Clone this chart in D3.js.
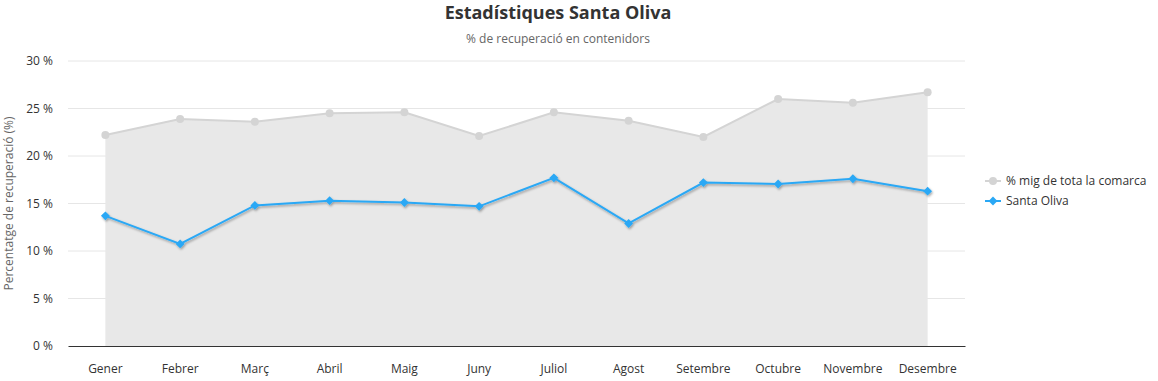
<!DOCTYPE html>
<html><head><meta charset="utf-8">
<script src="https://cdn.jsdelivr.net/npm/d3@7"></script>
<style>
body{margin:0;background:#fff;}
svg{font-family:"Open Sans","Noto Sans",sans-serif;}
</style></head>
<body><div id="chart"></div>
<script>
const months = ["Gener","Febrer","Març","Abril","Maig","Juny","Juliol","Agost","Setembre","Octubre","Novembre","Desembre"];
const comarca = [22.2,23.9,23.6,24.5,24.6,22.1,24.6,23.7,22.0,26.0,25.6,26.7];
const santaOliva = [13.7,10.75,14.8,15.3,15.1,14.7,17.7,12.9,17.2,17.05,17.6,16.3];
const yTicks = [0,5,10,15,20,25,30];
const seriesNames = ["% mig de tota la comarca","Santa Oliva"];

const W=1158,H=381;
const m={left:68,right:1158-965,top:61,bottom:381-346};
const svg=d3.select("#chart").append("svg").attr("width",W).attr("height",H);
const defs=svg.append("defs");
const f=defs.append("filter").attr("id","sh").attr("x","-10%").attr("y","-50%").attr("width","120%").attr("height","200%");
f.append("feDropShadow").attr("dx",1).attr("dy",1.5).attr("stdDeviation",1.3).attr("flood-color","#000").attr("flood-opacity",0.35);

const x=d3.scaleBand().domain(months).range([m.left,W-m.right]);
const y=d3.scaleLinear().domain([0,30]).range([H-m.bottom,m.top]);
const cx=d=>x(d)+x.bandwidth()/2;

// grid
svg.append("g").selectAll("line").data(yTicks.filter(t=>t>0)).join("line")
 .attr("x1",m.left).attr("x2",W-m.right).attr("y1",d=>y(d)).attr("y2",d=>y(d))
 .attr("stroke","#e6e6e6").attr("stroke-width",1);

// y axis
const ya=svg.append("g").attr("transform",`translate(${m.left},0)`)
 .call(d3.axisLeft(y).tickValues(yTicks).tickSize(0).tickPadding(15).tickFormat(d=>d+" %"));
ya.select(".domain").remove();
ya.selectAll("text").attr("font-size",12).attr("fill","#333").attr("font-family","'Open Sans',sans-serif");

// area comarca
const area=d3.area().x((d,i)=>cx(months[i])).y0(y(0)).y1(d=>y(d));
svg.append("path").datum(comarca).attr("d",area).attr("fill","#e8e8e8");
const line=d3.line().x((d,i)=>cx(months[i])).y(d=>y(d));
svg.append("path").datum(comarca).attr("d",line).attr("fill","none").attr("stroke","#d4d4d4").attr("stroke-width",2);
svg.append("g").selectAll("circle").data(comarca).join("circle")
 .attr("cx",(d,i)=>cx(months[i])).attr("cy",d=>y(d)).attr("r",4).attr("fill","#d4d4d4");

// x axis
const xa=svg.append("g").attr("transform",`translate(0,${y(0)})`)
 .call(d3.axisBottom(x).tickSize(0).tickPadding(18));
xa.select(".domain").attr("stroke","#333").attr("stroke-width",1);
xa.selectAll("text").attr("font-size",12).attr("fill","#333").attr("font-family","'Open Sans',sans-serif");

// santa oliva
const blue="#2aa8f5";
const g2=svg.append("g").attr("filter","url(#sh)");
g2.append("path").datum(santaOliva).attr("d",line).attr("fill","none").attr("stroke",blue).attr("stroke-width",2);
const diamond=d3.symbol().type(d3.symbolDiamond2).size(50);
g2.selectAll("path.pt").data(santaOliva).join("path").attr("class","pt")
 .attr("d",diamond).attr("transform",(d,i)=>`translate(${cx(months[i])},${y(d)})`).attr("fill",blue);

// titles
svg.append("text").attr("x",558).attr("y",19).attr("text-anchor","middle")
 .attr("font-size",18).attr("font-weight","bold").attr("fill","#333").text("Estadístiques Santa Oliva");
svg.append("text").attr("x",558).attr("y",43).attr("text-anchor","middle")
 .attr("font-size",12).attr("fill","#666").text("% de recuperació en contenidors");
svg.append("text").attr("transform",`translate(13,${(y(0)+y(30))/2}) rotate(-90)`).attr("text-anchor","middle")
 .attr("font-size",12).attr("fill","#666").text("Percentatge de recuperació (%)");

// legend
const lg=svg.append("g").attr("transform","translate(985,181)");
seriesNames.forEach((n,i)=>{
  const gy=i*20;
  const col=i===0?"#d4d4d4":blue;
  lg.append("line").attr("x1",0).attr("x2",16).attr("y1",gy).attr("y2",gy).attr("stroke",col).attr("stroke-width",2);
  if(i===0) lg.append("circle").attr("cx",8).attr("cy",gy).attr("r",4).attr("fill",col);
  else lg.append("path").attr("d",diamond).attr("transform",`translate(8,${gy})`).attr("fill",col);
  lg.append("text").attr("x",21).attr("y",gy+4).attr("font-size",12).attr("fill","#333").text(n);
});
</script></body></html>
